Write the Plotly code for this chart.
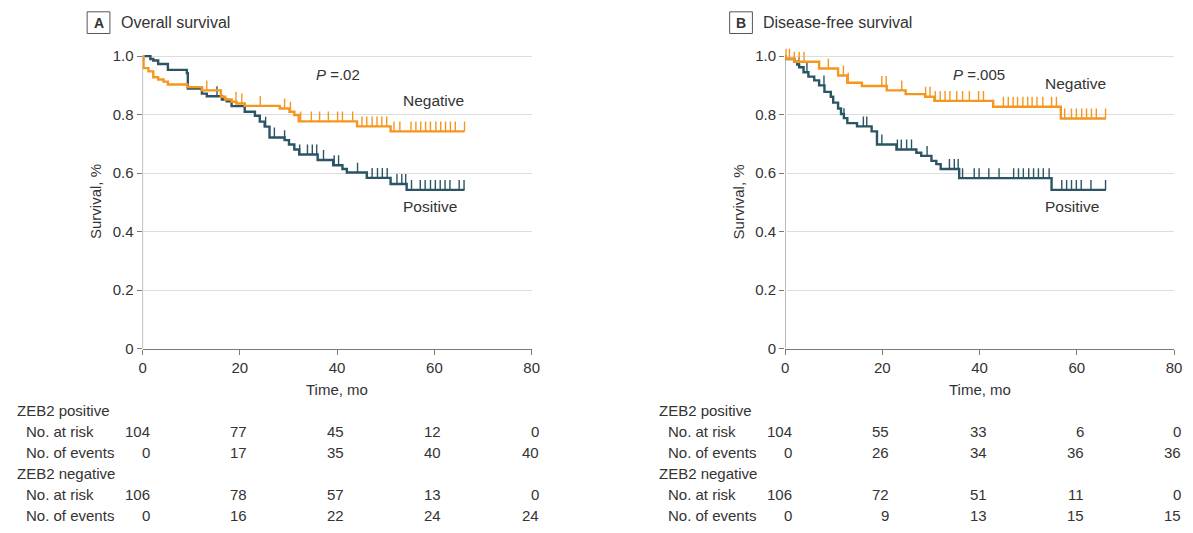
import plotly.graph_objects as go

W, H = 1193, 533

# ---------------- data ----------------
months = [0, 20, 40, 60, 80]
y_ticks = [0, 0.2, 0.4, 0.6, 0.8, 1.0]
y_tick_labels = ["0", "0.2", "0.4", "0.6", "0.8", "1.0"]

# Panel A: overall survival
A_pos_times = [0, 1.6, 2.2, 3.2, 5.2, 9.1, 9.3, 12.2, 13.2, 16.3, 17.3, 18.3, 21.0, 23.1, 24.1, 25.1, 26.1,
               29.2, 30.1, 31.2, 32.2, 36.0, 39.2, 41.1, 42.0, 46.1, 51.0, 54.3, 66.2]
A_pos_surv = [1.0, 0.99, 0.985, 0.973, 0.953, 0.942, 0.889, 0.872, 0.863, 0.852, 0.846, 0.829, 0.81, 0.796,
              0.776, 0.759, 0.722, 0.713, 0.698, 0.681, 0.664, 0.645, 0.627, 0.614, 0.602, 0.584, 0.563,
              0.543, 0.543]
A_pos_cens = [15.3, 25.3, 27.1, 29.2, 32.3, 33.9, 34.9, 35.8, 37.2, 39.4, 40.3, 44.2, 47.2, 48.3, 49.3,
              50.3, 52.3, 53.3, 54.1, 55.3, 57.1, 58.1, 59.2, 60.2, 61.2, 62.2, 63.2, 65.1, 66.1]

A_neg_times = [0, 0.2, 1.2, 2.2, 3.2, 4.3, 5.2, 9.2, 12.2, 16.1, 17.0, 18.3, 19.3, 21.0, 28.2, 30.2,
               31.2, 32.1, 44.1, 51.0, 66.2]
A_neg_surv = [1.0, 0.959, 0.948, 0.928, 0.920, 0.913, 0.903, 0.894, 0.883, 0.861, 0.852, 0.844, 0.838,
              0.830, 0.821, 0.810, 0.799, 0.777, 0.760, 0.743, 0.743]
A_neg_cens = [13.2, 19.2, 20.4, 24.2, 29.2, 30.4, 32.5, 34.7, 36.4, 38.2, 40.1, 41.1, 43.2, 45.1, 46.1,
              47.2, 48.2, 49.2, 50.2, 51.7, 52.9, 55.2, 56.2, 57.2, 58.2, 59.2, 60.3, 61.3, 62.3, 63.3,
              64.3, 66.2]

# Panel B: disease-free survival
B_pos_times = [0, 0.05, 1.9, 2.5, 2.9, 3.8, 4.8, 6.0, 7.0, 8.1, 9.4, 9.9, 10.9, 11.5, 12.1, 12.8, 14.8,
               17.8, 18.9, 22.9, 27.0, 28.0, 30.1, 31.1, 32.0, 35.8, 54.8, 66.0]
B_pos_surv = [1.0, 0.990, 0.981, 0.971, 0.962, 0.945, 0.930, 0.917, 0.900, 0.878, 0.861, 0.841, 0.821,
              0.802, 0.788, 0.771, 0.760, 0.743, 0.698, 0.681, 0.670, 0.659, 0.642, 0.631, 0.614, 0.583,
              0.543, 0.543]
B_pos_cens = [2.9, 4.5, 8.0, 12.1, 16.1, 16.8, 19.9, 23.1, 23.9, 25.0, 26.0, 29.2, 33.8, 34.8, 35.6,
              36.5, 38.9, 39.9, 41.9, 44.0, 47.0, 48.0, 49.0, 50.1, 51.1, 52.1, 53.1, 54.3, 56.9, 57.9,
              58.9, 59.9, 60.9, 62.9, 65.9]

B_neg_times = [0, 0.05, 1.9, 7.0, 10.9, 12.8, 15.8, 20.9, 24.8, 28.8, 30.7, 42.8, 56.7, 66.0]
B_neg_surv = [1.0, 0.991, 0.981, 0.958, 0.934, 0.909, 0.898, 0.883, 0.870, 0.861, 0.847, 0.827, 0.787,
              0.787]
B_neg_cens = [0.2, 0.9, 1.9, 2.9, 3.9, 8.9, 12.0, 13.0, 19.9, 20.8, 24.0, 28.9, 29.8, 30.9, 31.9, 32.9,
              33.9, 35.3, 36.5, 37.9, 39.8, 40.8, 44.9, 45.9, 46.9, 47.8, 48.9, 49.9, 50.8, 51.8, 53.0,
              54.8, 55.8, 57.5, 58.9, 59.9, 61.0, 62.0, 63.0, 64.0, 65.9]

# Risk tables
A_pos_risk = [104, 77, 45, 12, 0]
A_pos_events = [0, 17, 35, 40, 40]
A_neg_risk = [106, 78, 57, 13, 0]
A_neg_events = [0, 16, 22, 24, 24]
B_pos_risk = [104, 55, 33, 6, 0]
B_pos_events = [0, 26, 34, 36, 36]
B_neg_risk = [106, 72, 51, 11, 0]
B_neg_events = [0, 9, 13, 15, 15]

# ---------------- style ----------------
ORANGE = "#F5961F"
BLUE = "#2B5464"
TXT = "#333333"
AXC = "#7a7a7a"
FONT = "Liberation Sans, Arial, sans-serif"
TICK_H = 0.034


def px(xp):
    return xp / W


def py(yp):
    return 1 - yp / H


def surv_at(times, surv, t):
    s = surv[0]
    for ti, si in zip(times, surv):
        if ti <= t:
            s = si
    return s


def cens_xy(times, surv, cens):
    xs, ys = [], []
    for c in cens:
        s = surv_at(times, surv, c)
        xs += [c, c, None]
        ys += [s, s + TICK_H, None]
    return xs, ys


def txt(text, x, y, size=15, xanchor="center", xref="paper", **kw):
    d = dict(text=text, xref=xref, yref="paper", x=x, y=y, xanchor=xanchor, yanchor="middle",
             showarrow=False, font=dict(size=size, color=TXT, family=FONT))
    d.update(kw)
    return d


fig = go.Figure()

panels = [
    dict(xa="x", ya="y", left=140, pos=(A_pos_times, A_pos_surv, A_pos_cens),
         neg=(A_neg_times, A_neg_surv, A_neg_cens), letter="A", title="Overall survival",
         p="<i>P</i> =.02", p_x=337, neg_lab_y=102,
         tables=(A_pos_risk, A_pos_events, A_neg_risk, A_neg_events)),
    dict(xa="x2", ya="y2", left=789, pos=(B_pos_times, B_pos_surv, B_pos_cens),
         neg=(B_neg_times, B_neg_surv, B_neg_cens), letter="B", title="Disease-free survival",
         p="<i>P</i> =.005", p_x=985, neg_lab_y=85,
         tables=(B_pos_risk, B_pos_events, B_neg_risk, B_neg_events)),
]

annotations = []
shapes = []

for pn in panels:
    xa, ya = pn["xa"], pn["ya"]
    off = pn["left"] - 140
    for (times, surv, cens), col in ((pn["pos"], BLUE), (pn["neg"], ORANGE)):
        fig.add_trace(go.Scatter(x=times, y=surv, mode="lines", xaxis=xa, yaxis=ya,
                                 line=dict(shape="hv", color=col, width=2.4),
                                 showlegend=False, hoverinfo="skip"))
        cx, cy = cens_xy(times, surv, cens)
        fig.add_trace(go.Scatter(x=cx, y=cy, mode="lines", xaxis=xa, yaxis=ya,
                                 line=dict(color=col, width=1.4),
                                 showlegend=False, hoverinfo="skip"))
    # y axis line from 0 to 1.0
    shapes.append(dict(type="line", xref=xa, yref=ya, x0=0, x1=0, y0=0, y1=1.0,
                       line=dict(color=AXC, width=1), layer="below"))
    # panel letter box
    shapes.append(dict(type="rect", xref="paper", yref="paper",
                       x0=px(84 + off), x1=px(107 + off), y0=py(34), y1=py(12),
                       line=dict(color="#555555", width=1)))
    annotations.append(txt("<b>%s</b>" % pn["letter"], px(95.5 + off), py(23.5), size=14))
    annotations.append(txt(pn["title"], px(116 + off), py(23), size=16, xanchor="left"))
    # p value
    annotations.append(txt(pn["p"], px(pn["p_x"]), py(76)))
    # curve labels
    lab_x = px(401 + off)
    annotations.append(txt("Negative", lab_x, py(pn["neg_lab_y"]), size=15.5, xanchor="left"))
    annotations.append(txt("Positive", lab_x, py(210), size=15.5, xanchor="left"))
    # axis titles
    annotations.append(txt("Survival, %", px(93 + off), py(205), textangle=-90))
    annotations.append(txt("Time, mo", px(336.5 + off), py(395)))
    # risk table
    pos_risk, pos_ev, neg_risk, neg_ev = pn["tables"]
    rows = [("ZEB2 positive", 11, 417, None), ("No. at risk", 20, 438, pos_risk),
            ("No. of events", 20, 459, pos_ev), ("ZEB2 negative", 11, 481, None),
            ("No. at risk", 20, 502, neg_risk), ("No. of events", 20, 523, neg_ev)]
    for label, lx, ly, vals in rows:
        annotations.append(txt(label, px(lx + off), py(ly), xanchor="left"))
        if vals is not None:
            for m, v in zip(months, vals):
                annotations.append(txt(str(v), m, py(ly), xanchor="right", xref=xa, xshift=9))

y_top_px = 354 - 1.06 * 297
ydom = [py(354), py(y_top_px)]

axis_x = dict(range=[0, 80], tickvals=months, ticktext=[str(m) for m in months], showgrid=False,
              zeroline=False, showline=True, linecolor=AXC, linewidth=1, ticks="outside", ticklen=5,
              tickcolor=AXC, tickfont=dict(size=15, color=TXT, family=FONT), fixedrange=True)
axis_y = dict(range=[0, 1.06], tickvals=y_ticks, ticktext=y_tick_labels, showgrid=True,
              gridcolor="#dddddd", gridwidth=1, zeroline=False, showline=False, ticks="outside",
              ticklen=5, tickcolor=AXC, tickfont=dict(size=15, color=TXT, family=FONT), fixedrange=True)

fig.update_layout(
    width=W, height=H, margin=dict(l=0, r=0, t=0, b=0),
    paper_bgcolor="white", plot_bgcolor="white",
    xaxis=dict(domain=[px(140), px(533)], anchor="y", **axis_x),
    yaxis=dict(domain=ydom, anchor="x", **axis_y),
    xaxis2=dict(domain=[px(789), px(1182)], anchor="y2", **axis_x),
    yaxis2=dict(domain=ydom, anchor="x2", **axis_y),
    annotations=annotations, shapes=shapes,
    font=dict(family=FONT, color=TXT),
)

post = ("document.documentElement.style.margin='0';document.body.style.margin='0';"
        "document.documentElement.style.overflow='hidden';document.body.style.overflow='hidden';")
fig.write_html("out.html", config={"displayModeBar": False}, post_script=post)
